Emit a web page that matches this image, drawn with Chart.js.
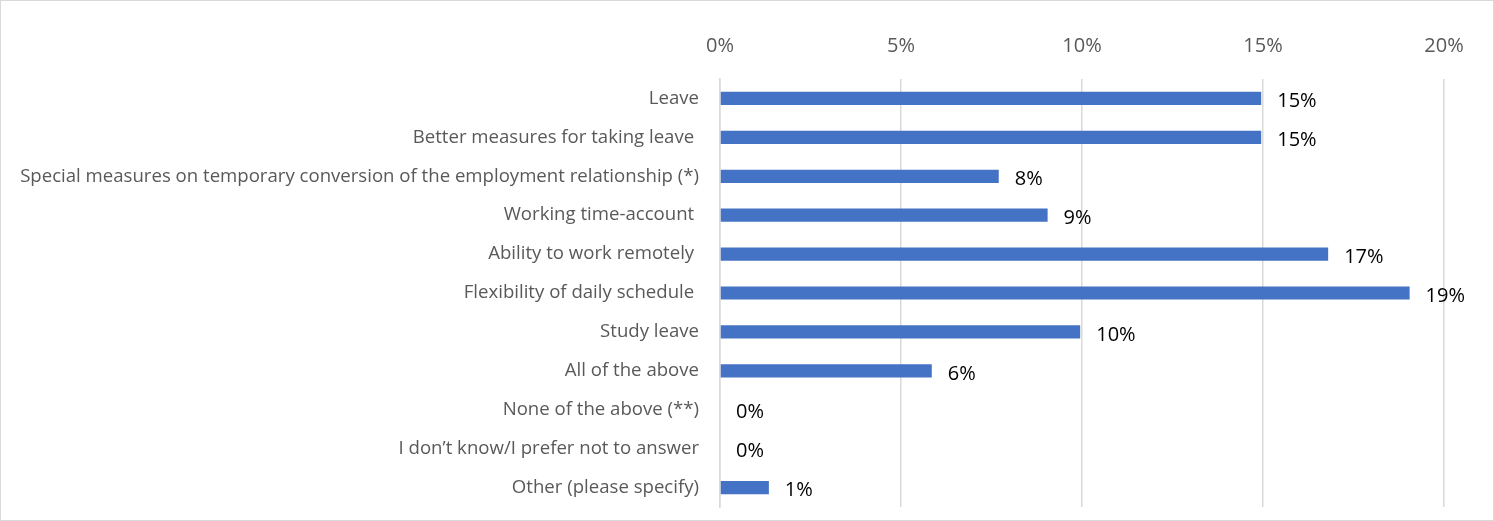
<!DOCTYPE html>
<html>
<head>
<meta charset="utf-8">
<script src="https://cdn.jsdelivr.net/npm/chart.js@4.4.0/dist/chart.umd.min.js"></script>
<style>
  html, body { margin: 0; padding: 0; background: #fff; }
  #wrap {
    position: absolute; left: 0; top: 0;
    width: 1494px; height: 521px;
    box-sizing: border-box;
    border: 1px solid #d9d9d9;
  }
</style>
</head>
<body>
<div id="wrap"><canvas id="BarChart"></canvas></div>
<script>
const categories = [
  'Leave',
  'Better measures for taking leave ',
  'Special measures on temporary conversion of the employment relationship (*)',
  'Working time-account ',
  'Ability to work remotely ',
  'Flexibility of daily schedule ',
  'Study leave',
  'All of the above',
  'None of the above (**)',
  'I don\u2019t know/I prefer not to answer',
  'Other (please specify)'
];
const shares = [14.95, 14.95, 7.7, 9.05, 16.8, 19.05, 9.95, 5.85, 0, 0, 1.35];
const tickValues = [0, 5, 10, 15, 20];

const FONT = '"Open Sans", Lato, sans-serif';

// writes the rounded percentage just past the end of each bar
const valueLabels = {
  id: 'valueLabels',
  afterDatasetsDraw(chart) {
    const ctx = chart.ctx;
    const meta = chart.getDatasetMeta(0);
    ctx.save();
    ctx.font = '20px ' + FONT;
    ctx.fillStyle = '#000';
    ctx.textAlign = 'left';
    ctx.textBaseline = 'middle';
    meta.data.forEach((bar, i) => {
      const v = chart.data.datasets[0].data[i];
      ctx.fillText(Math.round(v) + '%', bar.x + 16, bar.y + 3);
    });
    ctx.restore();
  }
};

const data = {
  labels: categories,
  datasets: [{
    label: '',
    backgroundColor: '#4472c4',
    borderWidth: 0,
    data: shares,
    categoryPercentage: 1,
    barPercentage: 0.34
  }]
};

const config = {
  type: 'bar',
  data: data,
  options: {
    indexAxis: 'y',
    responsive: true,
    maintainAspectRatio: false,
    animation: false,
    layout: { padding: { top: 21, right: 49, bottom: 13, left: 0 } },
    plugins: {
      legend: { display: false },
      tooltip: { enabled: false }
    },
    scales: {
      x: {
        position: 'top',
        min: 0,
        max: 20,
        afterBuildTicks(scale) {
          scale.ticks = tickValues.map(v => ({ value: v }));
        },
        afterFit(scale) { scale.height = 57; },
        border: { display: false },
        grid: { color: '#d9d9d9', lineWidth: 1.5, drawTicks: false },
        ticks: {
          padding: 21,
          color: '#595959',
          font: { family: FONT, size: 20 },
          callback: v => v + '%'
        }
      },
      y: {
        afterFit(scale) {
          scale.width = 719;
          scale.paddingTop = 0;
          scale.paddingBottom = 0;
        },
        border: { color: '#d9d9d9', width: 1.5 },
        grid: { display: false, drawTicks: false },
        ticks: {
          padding: 21,
          color: '#595959',
          font: { family: FONT, size: 18.6 }
        }
      }
    }
  },
  plugins: [valueLabels]
};

new Chart(document.getElementById('BarChart'), config);
</script>
</body>
</html>
